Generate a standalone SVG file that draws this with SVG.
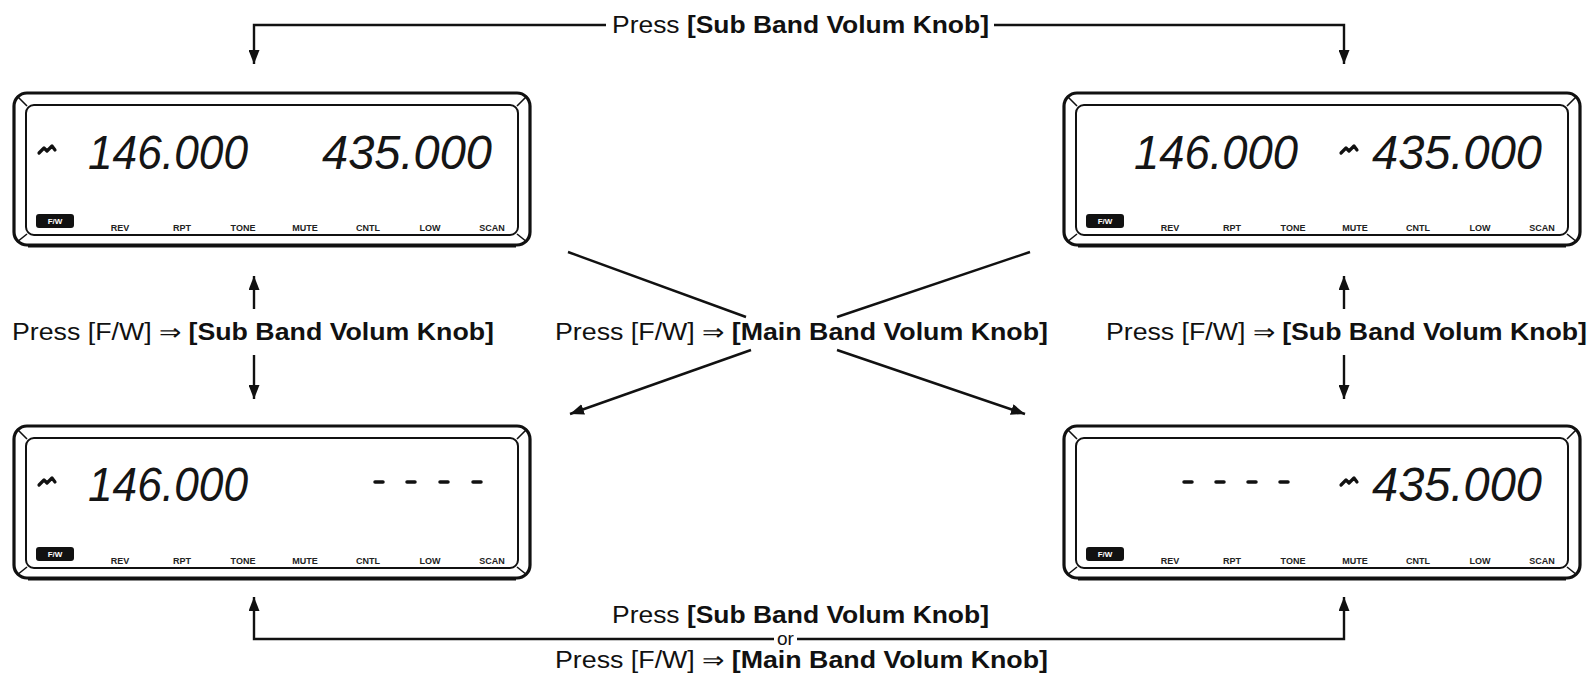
<svg xmlns="http://www.w3.org/2000/svg" xmlns:xlink="http://www.w3.org/1999/xlink" width="1591" height="677" viewBox="0 0 1591 677">
<style>
.bg{fill:#ffffff}
.outer{fill:none;stroke:#111;stroke-width:3.2}
.inner{fill:none;stroke:#111;stroke-width:2}
.bev{stroke:#111;stroke-width:1.6}
.botedge{stroke:#111;stroke-width:2.2}
.fw{fill:#111}
.fwt{font-family:"Liberation Sans",Arial,sans-serif;font-size:8px;font-weight:bold;fill:#fff;text-anchor:middle}
.lab{font-family:"Liberation Sans",Arial,sans-serif;font-size:9px;font-weight:bold;fill:#222;text-anchor:middle}
.dig{font-family:"Liberation Sans",Arial,sans-serif;font-size:48px;font-style:italic;fill:#151515}
.dash{stroke:#111;stroke-width:3.5;stroke-linecap:round}
.ind{fill:none;stroke:#111;stroke-width:3.2;stroke-linejoin:round;stroke-linecap:round}
.conn{fill:none;stroke:#111;stroke-width:2.4}
.txt{font-family:"Liberation Sans",Arial,sans-serif;font-size:23px;fill:#111}
.b{font-weight:bold}
</style>
<defs>
<marker id="ah" viewBox="0 0 14 11" refX="14" refY="5.5" markerWidth="14" markerHeight="11" markerUnits="userSpaceOnUse" orient="auto">
<path d="M0,0 L14,5.5 L0,11 z" fill="#111"/>
</marker>
<g id="lcd-frame">
<rect class="outer" x="0" y="0" width="516" height="152" rx="13"/>
<line class="botedge" x1="14" y1="153.5" x2="502" y2="153.5"/>
<rect class="inner" x="12" y="12" width="492" height="130" rx="8"/>
<line class="bev" x1="3" y1="3" x2="13" y2="13"/>
<line class="bev" x1="513" y1="3" x2="503" y2="13"/>
<line class="bev" x1="3" y1="149" x2="13" y2="141"/>
<line class="bev" x1="513" y1="149" x2="503" y2="141"/>
<rect class="fw" x="22" y="121" width="38" height="14" rx="3"/>
<text class="fwt" x="41" y="131">F/W</text>
<text class="lab" x="106" y="138">REV</text>
<text class="lab" x="168" y="138">RPT</text>
<text class="lab" x="229" y="138">TONE</text>
<text class="lab" x="291" y="138">MUTE</text>
<text class="lab" x="354" y="138">CNTL</text>
<text class="lab" x="416" y="138">LOW</text>
<text class="lab" x="478" y="138">SCAN</text>
</g>
<path id="ind" class="ind" d="M0,6 L5,1 L8,4 L13,-1 L16,3"/>
</defs>
<rect class="bg" x="0" y="0" width="1591" height="677"/>

<g id="lcd-top-left" transform="translate(14,93)">
<use xlink:href="#lcd-frame"/>
<use xlink:href="#ind" x="25" y="54"/>
<text class="dig" x="74" y="76" textLength="160" lengthAdjust="spacingAndGlyphs">146.000</text>
<text class="dig" x="308" y="76" textLength="170" lengthAdjust="spacingAndGlyphs">435.000</text>
</g>

<g id="lcd-top-right" transform="translate(1064,93)">
<use xlink:href="#lcd-frame"/>
<text class="dig" x="70" y="76" textLength="164" lengthAdjust="spacingAndGlyphs">146.000</text>
<use xlink:href="#ind" x="277" y="54"/>
<text class="dig" x="308" y="76" textLength="170" lengthAdjust="spacingAndGlyphs">435.000</text>
</g>

<g id="lcd-bottom-left" transform="translate(14,426)">
<use xlink:href="#lcd-frame"/>
<use xlink:href="#ind" x="25" y="53"/>
<text class="dig" x="74" y="75" textLength="160" lengthAdjust="spacingAndGlyphs">146.000</text>
<line class="dash" x1="361" y1="56" x2="369" y2="56"/>
<line class="dash" x1="393" y1="56" x2="401" y2="56"/>
<line class="dash" x1="426" y1="56" x2="434" y2="56"/>
<line class="dash" x1="459" y1="56" x2="467" y2="56"/>
</g>

<g id="lcd-bottom-right" transform="translate(1064,426)">
<use xlink:href="#lcd-frame"/>
<line class="dash" x1="120" y1="56" x2="128" y2="56"/>
<line class="dash" x1="152" y1="56" x2="160" y2="56"/>
<line class="dash" x1="184" y1="56" x2="192" y2="56"/>
<line class="dash" x1="216" y1="56" x2="224" y2="56"/>
<use xlink:href="#ind" x="277" y="53"/>
<text class="dig" x="308" y="75" textLength="170" lengthAdjust="spacingAndGlyphs">435.000</text>
</g>

<g id="connectors">
<path class="conn" d="M606,25 H254 V64" marker-end="url(#ah)"/>
<path class="conn" d="M994,25 H1344 V64" marker-end="url(#ah)"/>
<path class="conn" d="M254,309 V276" marker-end="url(#ah)"/>
<path class="conn" d="M254,355 V399" marker-end="url(#ah)"/>
<path class="conn" d="M1344,309 V276" marker-end="url(#ah)"/>
<path class="conn" d="M1344,355 V399" marker-end="url(#ah)"/>
<path class="conn" d="M568,252 L746,317"/>
<path class="conn" d="M1030,252 L837,317"/>
<path class="conn" d="M751,350 L570,414" marker-end="url(#ah)"/>
<path class="conn" d="M837,350 L1025,414" marker-end="url(#ah)"/>
<path class="conn" d="M774,639 H254 V597" marker-end="url(#ah)"/>
<path class="conn" d="M797,639 H1344 V597" marker-end="url(#ah)"/>
</g>

<g id="labels">
<text class="txt" x="612" y="33" textLength="377" lengthAdjust="spacingAndGlyphs">Press <tspan class="b">[Sub Band Volum Knob]</tspan></text>
<text class="txt" x="12" y="340" textLength="482" lengthAdjust="spacingAndGlyphs">Press [F/W] ⇒ <tspan class="b">[Sub Band Volum Knob]</tspan></text>
<text class="txt" x="555" y="340" textLength="493" lengthAdjust="spacingAndGlyphs">Press [F/W] ⇒ <tspan class="b">[Main Band Volum Knob]</tspan></text>
<text class="txt" x="1106" y="340" textLength="481" lengthAdjust="spacingAndGlyphs">Press [F/W] ⇒ <tspan class="b">[Sub Band Volum Knob]</tspan></text>
<text class="txt" x="612" y="623" textLength="377" lengthAdjust="spacingAndGlyphs">Press <tspan class="b">[Sub Band Volum Knob]</tspan></text>
<text class="txt" x="777" y="645" style="font-size:19px">or</text>
<text class="txt" x="555" y="668" textLength="493" lengthAdjust="spacingAndGlyphs">Press [F/W] ⇒ <tspan class="b">[Main Band Volum Knob]</tspan></text>
</g>
</svg>
